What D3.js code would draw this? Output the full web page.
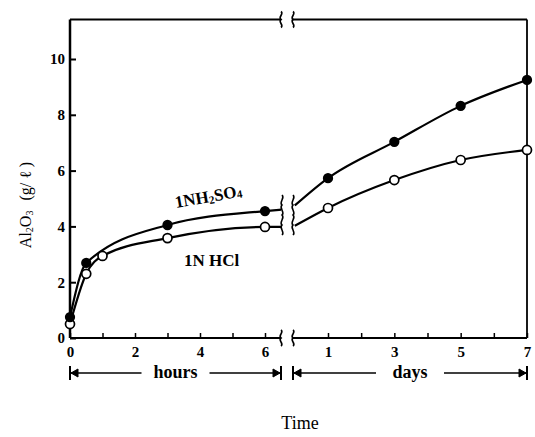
<!DOCTYPE html>
<html><head><meta charset="utf-8">
<script src="https://cdn.jsdelivr.net/npm/d3@7"></script>
<style>body{margin:0;background:#fff}</style>
</head><body>
<svg id="c" width="535" height="437"></svg>
<script>
// data
const yTicks = [0, 2, 4, 6, 8, 10];
const hourTicks = [0, 1, 2, 3, 4, 5, 6];
const hourLabels = [0, 2, 4, 6];
const dayTicks = [1, 2, 3, 4, 5, 6, 7];
const dayLabels = [1, 3, 5, 7];

const h2so4Hours = [0, 0.5, 3, 6];
const h2so4HoursVal = [0.75, 2.69, 4.05, 4.55];
const hclHours = [0, 0.5, 1, 3, 6];
const hclHoursVal = [0.5, 2.3, 2.94, 3.58, 3.98];

const h2so4Days = [1, 3, 5, 7];
const h2so4DaysVal = [5.73, 7.03, 8.32, 9.25];
const hclDays = [1, 3, 5, 7];
const hclDaysVal = [4.66, 5.66, 6.38, 6.74];

// curve ends at the break (line only, no marker)
const h2so4HourEnd = [6.5, 4.6];
const hclHourEnd = [6.5, 3.98];
const h2so4DayStart = [0.0, 4.75];
const hclDayStart = [0.0, 4.02];

const svg = d3.select("#c");
const serif = "'Liberation Serif','Times New Roman',serif";

const y = d3.scaleLinear().domain([0, 10]).range([338, 59]);
const xh = d3.scaleLinear().domain([0, 6]).range([70, 265]);
const xd = d3.scaleLinear().domain([1, 7]).range([328, 527]);

const yTop = 19.5, yBot = y(0);
const brkL = 281, brkR = 293;

const g = svg.append("g").attr("stroke", "#000").attr("fill", "none");

// frame lines
g.append("line").attr("x1", 70).attr("x2", 70).attr("y1", yTop).attr("y2", yBot).attr("stroke-width", 2.5);
g.append("line").attr("x1", 70).attr("x2", brkL).attr("y1", yTop).attr("y2", yTop).attr("stroke-width", 2.2);
g.append("line").attr("x1", brkR).attr("x2", 527).attr("y1", yTop).attr("y2", yTop).attr("stroke-width", 1.8);
g.append("line").attr("x1", 527).attr("x2", 527).attr("y1", yTop).attr("y2", yBot).attr("stroke-width", 1.8);
g.append("line").attr("x1", 70).attr("x2", brkL).attr("y1", yBot).attr("y2", yBot).attr("stroke-width", 2.2);
g.append("line").attr("x1", brkR).attr("x2", 527).attr("y1", yBot).attr("y2", yBot).attr("stroke-width", 2.2);

// y axis ticks & labels
const yAxis = d3.axisLeft(y).tickValues(yTicks).tickSize(-6).tickPadding(5);
const ya = svg.append("g").attr("transform", "translate(70,0)").call(yAxis);
ya.select(".domain").remove();
ya.selectAll("line").attr("stroke-width", 2).attr("x1", 0).attr("x2", 6);
ya.selectAll("text").attr("font-family", serif).attr("font-weight", "bold").attr("font-size", 15).attr("x", -5).attr("fill", "#000");

// hours axis
const hAxis = d3.axisBottom(xh).tickValues(hourTicks).tickSize(-5).tickPadding(8)
  .tickFormat(d => hourLabels.includes(d) ? d : "");
const ha = svg.append("g").attr("transform", `translate(0,${yBot})`).call(hAxis);
ha.select(".domain").remove();
ha.selectAll("line").attr("stroke-width", 1.5);
ha.selectAll("text").attr("font-family", serif).attr("font-weight", "bold").attr("font-size", 15).attr("fill", "#000");

// days axis
const dAxis = d3.axisBottom(xd).tickValues(dayTicks).tickSize(-5).tickPadding(8)
  .tickFormat(d => dayLabels.includes(d) ? d : "");
const da = svg.append("g").attr("transform", `translate(0,${yBot})`).call(dAxis);
da.select(".domain").remove();
da.selectAll("line").attr("stroke-width", 1.5);
da.selectAll("text").attr("font-family", serif).attr("font-weight", "bold").attr("font-size", 15).attr("fill", "#000");

// break symbols
function wave(x, yc, h, n) {
  const p = d3.path();
  const seg = h / n;
  let yy = yc - h / 2;
  p.moveTo(x, yy);
  for (let i = 0; i < n; i++) {
    const s = i % 2 === 0 ? 1 : -1;
    p.bezierCurveTo(x + 3.5 * s, yy + seg * 0.3, x - 3.5 * s, yy + seg * 0.7, x, yy + seg);
    yy += seg;
  }
  return p.toString();
}
[yTop, yBot].forEach(yy => {
  g.append("path").attr("d", wave(brkL, yy, 16, 2)).attr("stroke-width", 1.6);
  g.append("path").attr("d", wave(brkR, yy, 16, 2)).attr("stroke-width", 1.6);
});
g.append("path").attr("d", wave(brkL + 1, 215, 40, 4)).attr("stroke-width", 1.6);
g.append("path").attr("d", wave(brkR, 215, 40, 4)).attr("stroke-width", 1.6);

// curves
const line = (sx) => d3.line().x(d => sx(d[0])).y(d => y(d[1])).curve(d3.curveMonotoneX);
const zip = (a, b) => a.map((v, i) => [v, b[i]]);

const sH = zip(h2so4Hours, h2so4HoursVal).concat([h2so4HourEnd]);
const cH = zip(hclHours, hclHoursVal).concat([hclHourEnd]);
const sD = [h2so4DayStart].concat(zip(h2so4Days, h2so4DaysVal));
const cD = [hclDayStart].concat(zip(hclDays, hclDaysVal));

g.append("path").attr("d", line(xh)(sH)).attr("stroke-width", 2.2);
g.append("path").attr("d", line(xh)(cH)).attr("stroke-width", 2.2);
g.append("path").attr("d", line(xd)(sD)).attr("stroke-width", 2.2);
g.append("path").attr("d", line(xd)(cD)).attr("stroke-width", 2.2);

// markers
function markers(sx, xs, vs, filled) {
  svg.append("g").selectAll("circle").data(zip(xs, vs)).join("circle")
    .attr("cx", d => sx(d[0])).attr("cy", d => y(d[1])).attr("r", filled ? 4.3 : 4.5)
    .attr("fill", filled ? "#000" : "#fff").attr("stroke", "#000").attr("stroke-width", 1.7);
}
markers(xh, hclHours, hclHoursVal, false);
markers(xh, h2so4Hours, h2so4HoursVal, true);
markers(xd, hclDays, hclDaysVal, false);
markers(xd, h2so4Days, h2so4DaysVal, true);

// annotations
const t1 = svg.append("text").attr("font-family", serif).attr("font-size", 17).attr("font-weight", "bold")
  .attr("fill", "#000").attr("transform", "translate(176,208) rotate(-10)");
t1.append("tspan").text("1NH");
t1.append("tspan").attr("font-size", 11).attr("dy", 2).text("2");
t1.append("tspan").attr("dy", -2).text("SO");
t1.append("tspan").attr("font-size", 11).attr("dy", 1).text("4");

svg.append("text").attr("font-family", serif).attr("font-size", 17).attr("font-weight", "bold")
  .attr("fill", "#000").attr("x", 184).attr("y", 266).text("1N HCl");

// y label
const yl = svg.append("text").attr("font-family", serif).attr("font-size", 16).attr("fill", "#000")
  .attr("transform", "translate(31,205) rotate(-90)").attr("text-anchor", "middle");
yl.append("tspan").text("Al");
yl.append("tspan").attr("font-size", 10).attr("dy", 2).text("2");
yl.append("tspan").attr("dy", -2).text("O");
yl.append("tspan").attr("font-size", 10).attr("dy", 2).text("3");
yl.append("tspan").attr("dy", -2).attr("dx", 10).text("(g/ ℓ )");

// brackets
function bracket(x1, x2, label) {
  const yy = 373, cx = (x1 + x2) / 2;
  const gg = svg.append("g").attr("stroke", "#000");
  gg.append("line").attr("x1", x1).attr("x2", x1).attr("y1", yy - 7).attr("y2", yy + 7).attr("stroke-width", 2);
  gg.append("line").attr("x1", x2).attr("x2", x2).attr("y1", yy - 7).attr("y2", yy + 7).attr("stroke-width", 2);
  gg.append("line").attr("x1", x1).attr("x2", cx - 34).attr("y1", yy).attr("y2", yy).attr("stroke-width", 1.5);
  gg.append("line").attr("x1", cx + 34).attr("x2", x2).attr("y1", yy).attr("y2", yy).attr("stroke-width", 1.5);
  gg.append("path").attr("d", `M${x1 + 1},${yy} L${x1 + 8},${yy - 4} L${x1 + 8},${yy + 4}Z`).attr("fill", "#000");
  gg.append("path").attr("d", `M${x2 - 1},${yy} L${x2 - 8},${yy - 4} L${x2 - 8},${yy + 4}Z`).attr("fill", "#000");
  svg.append("text").attr("x", cx).attr("y", yy + 5).attr("text-anchor", "middle").attr("fill", "#000")
    .attr("font-family", serif).attr("font-weight", "bold").attr("font-size", 18).text(label);
}
bracket(70, brkL, "hours");
bracket(brkR, 527, "days");

svg.append("text").attr("x", 300).attr("y", 429).attr("text-anchor", "middle").attr("fill", "#000")
  .attr("font-family", serif).attr("font-size", 18).text("Time");
</script>
</body></html>
